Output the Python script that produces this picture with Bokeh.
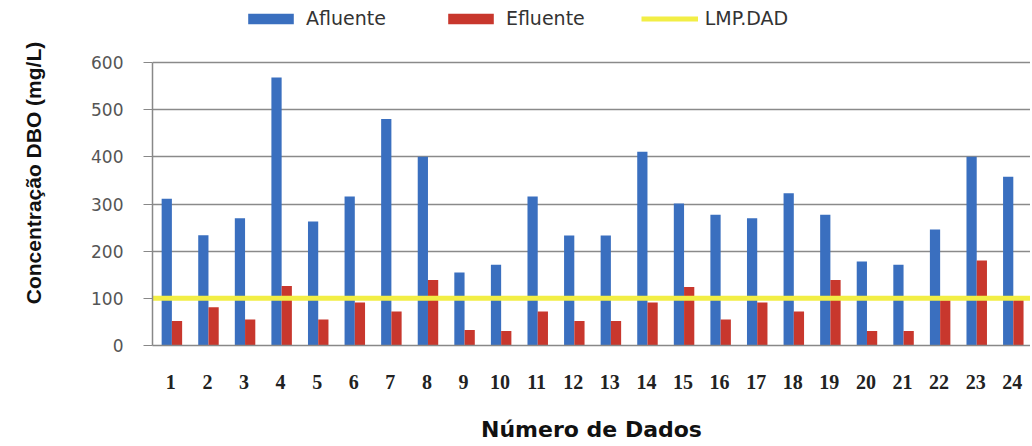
from bokeh.plotting import figure
from bokeh.models import Range1d, FixedTicker, Legend, LegendItem
from bokeh.embed import file_html
from bokeh.resources import INLINE
import numpy as np

dados = [str(i) for i in range(1, 25)]
afluente = [311, 234, 270, 568, 263, 316, 480, 400, 155, 171, 316, 233,
            233, 411, 301, 277, 270, 323, 277, 178, 171, 246, 400, 358]
efluente = [52, 81, 55, 126, 55, 91, 72, 139, 33, 31, 72, 52,
            52, 91, 124, 55, 91, 72, 139, 31, 31, 96, 180, 99]
lmp_dad = 100
y_ticks = [0, 100, 200, 300, 400, 500, 600]

BLUE = "#3a6fbf"
RED = "#c8372d"
YELLOW = "#f2ee45"

# layout: frame from canvas top to y=345; the 0..600 scale occupies the lower 283 px,
# the space above holds the legend
FRAME_H = 345
SCALE_H = 283
y_top = max(y_ticks) * FRAME_H / SCALE_H

xs = np.arange(1, len(dados) + 1)

p = figure(width=1030, height=444, output_backend="svg", toolbar_location=None,
           x_range=Range1d(0.5, len(dados) + 0.5), y_range=Range1d(0, y_top),
           min_border_left=152, min_border_right=0, min_border_top=0,
           min_border_bottom=99)
p.outline_line_color = None
p.background_fill_color = "white"

rb = p.vbar(x=xs - 0.11, top=afluente, width=0.28, fill_color=BLUE, line_color=None)
rr = p.vbar(x=xs + 0.17, top=efluente, width=0.28, fill_color=RED, line_color=None)
rl = p.line(x=[0.5, len(dados) + 0.5], y=[lmp_dad, lmp_dad], line_color=YELLOW, line_width=5)

# axes
p.yaxis.ticker = FixedTicker(ticks=y_ticks)
p.yaxis.bounds = (min(y_ticks), max(y_ticks))
p.yaxis.minor_tick_line_color = None
p.yaxis.major_tick_in = 0
p.yaxis.major_tick_out = 9
p.yaxis.major_tick_line_color = "#888888"
p.yaxis.axis_line_color = "#888888"
p.yaxis.axis_line_width = 1.5
p.yaxis.major_label_text_font = "DejaVu Sans"
p.yaxis.major_label_text_font_size = "17px"
p.yaxis.major_label_text_color = "#555555"
p.yaxis.major_label_standoff = 20
p.yaxis.axis_label = "Concentração DBO (mg/L)"
p.yaxis.axis_label_text_font = "Liberation Sans"
p.yaxis.axis_label_text_font_style = "bold"
p.yaxis.axis_label_text_font_size = "21px"
p.yaxis.axis_label_text_color = "#111111"
p.yaxis.axis_label_standoff = 43

p.xaxis.ticker = FixedTicker(ticks=list(xs))
p.xaxis.major_label_overrides = {int(x): d for x, d in zip(xs, dados)}
p.xaxis.minor_tick_line_color = None
p.xaxis.major_tick_line_color = None
p.xaxis.major_tick_out = 0
p.xaxis.major_tick_in = 0
p.xaxis.axis_line_color = "#888888"
p.xaxis.axis_line_width = 1.5
p.xaxis.major_label_text_font = "Liberation Serif"
p.xaxis.major_label_text_font_style = "bold"
p.xaxis.major_label_text_font_size = "20px"
p.xaxis.major_label_text_color = "#222222"
p.xaxis.major_label_standoff = 29
p.xaxis.axis_label = "Número de Dados"
p.xaxis.axis_label_text_font = "DejaVu Sans"
p.xaxis.axis_label_text_font_style = "bold"
p.xaxis.axis_label_text_font_size = "22px"
p.xaxis.axis_label_text_color = "#111111"
p.xaxis.axis_label_standoff = 25

p.xgrid.grid_line_color = None
p.ygrid.ticker = FixedTicker(ticks=y_ticks)
p.ygrid.grid_line_color = "#8a8a8a"
p.ygrid.grid_line_width = 1.5

legend = Legend(items=[LegendItem(label="Afluente", renderers=[rb]),
                       LegendItem(label="Efluente", renderers=[rr]),
                       LegendItem(label="LMP.DAD", renderers=[rl])],
                orientation="horizontal", location=(90, 316),
                padding=0, margin=0, spacing=56, label_standoff=7,
                glyph_width=57, glyph_height=13,
                label_text_font="DejaVu Sans", label_text_font_size="19px",
                label_text_color="#333333",
                border_line_color=None, background_fill_alpha=0)
p.add_layout(legend, "center")

open("out.html", "w").write(file_html(p, INLINE))
